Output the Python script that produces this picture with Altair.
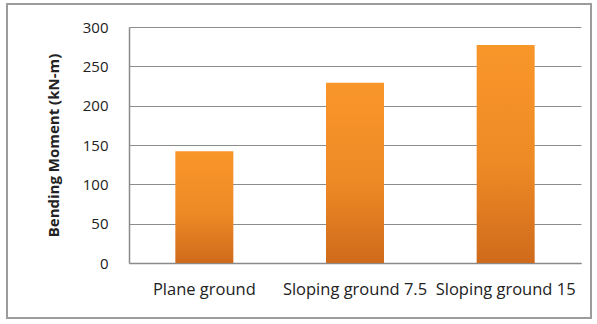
import altair as alt
import pandas as pd

categories = ["Plane ground", "Sloping ground 7.5", "Sloping ground 15"]
values = [142, 229, 277]

df = pd.DataFrame({"case": categories, "moment": values})

grad = alt.Gradient(
    gradient="linear",
    stops=[alt.GradientStop(color="#F9962A", offset=0),
           alt.GradientStop(color="#EE8A25", offset=0.55),
           alt.GradientStop(color="#CF6A1C", offset=1)],
    x1=0, x2=0, y1=0, y2=1,
)

bars = alt.Chart(df).mark_bar(fill=grad, stroke=None).encode(
    x=alt.X("case:N", sort=categories, title=None,
            scale=alt.Scale(paddingInner=0.615, paddingOuter=0.3075),
            axis=alt.Axis(labelAngle=0, labelFontSize=16.5, labelPadding=18,
                          ticks=False, domainColor="#8a8a8a", domainWidth=1.5,
                          labelColor="#222222", labelFont="Open Sans")),
    y=alt.Y("moment:Q", title="Bending Moment (kN-m)",
            scale=alt.Scale(domain=[0, 300]),
            axis=alt.Axis(values=[0, 50, 100, 150, 200, 250, 300], ticks=False,
                          labelFontSize=15, labelPadding=21, labelColor="#222222",
                          labelFont="Open Sans", domainColor="#8a8a8a", domainWidth=1.5,
                          gridColor="#8c8c8c", gridWidth=1,
                          titleFontSize=15, titleFont="Open Sans", titleFontWeight="bold",
                          titleColor="#222222", titleX=-76, titleY=118,
                          titleAlign="center", titleBaseline="middle")),
)

frame = alt.Chart(df).mark_rect(fill=None, stroke="#9a9a9a", strokeWidth=1.5, clip=False).encode(
    x=alt.value(-122), x2=alt.value(462), y=alt.value(-23), y2=alt.value(291)
)

chart = alt.layer(bars, frame).properties(
    width=452, height=236,
    padding={"left": 129, "top": 27, "right": 16, "bottom": 61},
    autosize=alt.AutoSizeParams(type="none"),
    background="white",
).configure_view(stroke=None)

chart.save("out.html", embed_options={"renderer": "svg", "actions": False})
